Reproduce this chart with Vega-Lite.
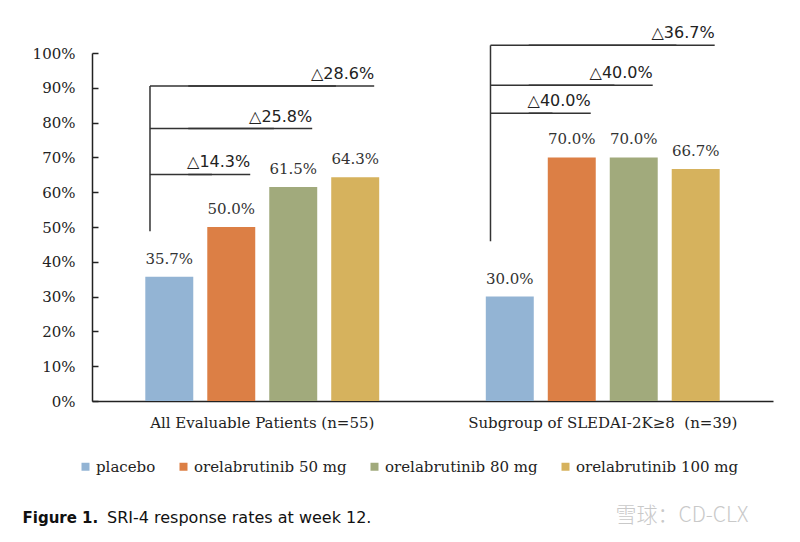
{
  "$schema": "https://vega.github.io/schema/vega-lite/v6.json",
  "autosize": "none",
  "width": 681,
  "height": 348,
  "padding": {"left": 92, "top": 53, "right": 27, "bottom": 141},
  "background": "white",
  "title": {
    "text": "SRI-4 response rates at week 12.",
    "orient": "bottom",
    "anchor": "start",
    "frame": "group",
    "dx": 15,
    "dy": -11,
    "font": "DejaVu Sans",
    "fontSize": 16,
    "fontWeight": "normal",
    "color": "#111",
    "baseline": "middle"
  },
  "datasets": {
    "rates": [
      {"group": "All Evaluable Patients (n=55)", "treatment": "placebo", "rate": 0.357},
      {"group": "All Evaluable Patients (n=55)", "treatment": "orelabrutinib 50 mg", "rate": 0.5},
      {"group": "All Evaluable Patients (n=55)", "treatment": "orelabrutinib 80 mg", "rate": 0.615},
      {"group": "All Evaluable Patients (n=55)", "treatment": "orelabrutinib 100 mg", "rate": 0.643},
      {"group": "Subgroup of SLEDAI-2K≥8\u00a0 (n=39)", "treatment": "placebo", "rate": 0.3},
      {"group": "Subgroup of SLEDAI-2K≥8\u00a0 (n=39)", "treatment": "orelabrutinib 50 mg", "rate": 0.7},
      {"group": "Subgroup of SLEDAI-2K≥8\u00a0 (n=39)", "treatment": "orelabrutinib 80 mg", "rate": 0.7},
      {"group": "Subgroup of SLEDAI-2K≥8\u00a0 (n=39)", "treatment": "orelabrutinib 100 mg", "rate": 0.667}
    ],
    "brackets": [
      {"group": "All Evaluable Patients (n=55)", "id": "g1a", "start": "placebo", "end": "orelabrutinib 50 mg", "level": 0.651, "label": "△14.3%"},
      {"group": "All Evaluable Patients (n=55)", "id": "g1b", "start": "placebo", "end": "orelabrutinib 80 mg", "level": 0.783, "label": "△25.8%"},
      {"group": "All Evaluable Patients (n=55)", "id": "g1c", "start": "placebo", "end": "orelabrutinib 100 mg", "level": 0.905, "label": "△28.6%"},
      {"group": "Subgroup of SLEDAI-2K≥8\u00a0 (n=39)", "id": "g2a", "start": "placebo", "end": "orelabrutinib 50 mg", "level": 0.827, "label": "△40.0%"},
      {"group": "Subgroup of SLEDAI-2K≥8\u00a0 (n=39)", "id": "g2b", "start": "placebo", "end": "orelabrutinib 80 mg", "level": 0.907, "label": "△40.0%"},
      {"group": "Subgroup of SLEDAI-2K≥8\u00a0 (n=39)", "id": "g2c", "start": "placebo", "end": "orelabrutinib 100 mg", "level": 1.022, "label": "△36.7%"}
    ],
    "stems": [
      {"group": "All Evaluable Patients (n=55)", "treatment": "placebo", "base": 0.488, "top": 0.905},
      {"group": "Subgroup of SLEDAI-2K≥8\u00a0 (n=39)", "treatment": "placebo", "base": 0.459, "top": 1.022}
    ]
  },
  "encoding": {
    "x": {
      "field": "group",
      "type": "nominal",
      "sort": null,
      "scale": {"paddingInner": 0, "paddingOuter": 0},
      "axis": {
        "title": "Figure 1.",
        "titleX": -70,
        "titleY": 116,
        "titleAlign": "left",
        "titleAngle": 0,
        "titleBaseline": "middle",
        "titleFont": "DejaVu Sans",
        "titleFontSize": 15,
        "titleFontWeight": "bold",
        "titleColor": "#111",
        "labelAngle": 0,
        "labelFont": "DejaVu Serif",
        "labelFontSize": 15,
        "labelColor": "#222",
        "labelPadding": 14,
        "labelLimit": 400,
        "ticks": false,
        "domainColor": "#222",
        "domainWidth": 1.5
      }
    },
    "y": {
      "type": "quantitative",
      "scale": {"domain": [0, 1], "nice": false, "zero": true},
      "axis": {
        "values": [0, 0.1, 0.2, 0.3, 0.4, 0.5, 0.6, 0.7, 0.8, 0.9, 1],
        "format": ".0%",
        "grid": false,
        "labelFont": "DejaVu Serif",
        "labelFontSize": 15,
        "labelColor": "#222",
        "labelPadding": 23,
        "tickSize": -6,
        "tickColor": "#222",
        "tickWidth": 1.5,
        "domainColor": "#222",
        "domainWidth": 1.5,
        "title": "雪球：CD-CLX",
        "titleAngle": 0,
        "titleX": 523,
        "titleY": 462,
        "titleAlign": "left",
        "titleBaseline": "middle",
        "titleFont": "Noto Sans CJK SC",
        "titleFontSize": 21,
        "titleFontWeight": 300,
        "titleColor": "#c9c9c9"
      }
    }
  },
  "resolve": {"scale": {"xOffset": "independent"}},
  "layer": [
    {
      "data": {"name": "rates"},
      "encoding": {
        "xOffset": {
          "field": "treatment",
          "type": "nominal",
          "scale": {
            "type": "band",
            "domain": ["placebo", "orelabrutinib 50 mg", "orelabrutinib 80 mg", "orelabrutinib 100 mg"],
            "paddingInner": 0.226,
            "paddingOuter": 0.86
          }
        },
        "y": {"field": "rate", "type": "quantitative"}
      },
      "layer": [
        {
          "mark": {"type": "bar"},
          "encoding": {
            "color": {
              "field": "treatment",
              "type": "nominal",
              "scale": {
                "domain": ["placebo", "orelabrutinib 50 mg", "orelabrutinib 80 mg", "orelabrutinib 100 mg"],
                "range": ["#93b4d4", "#dc7f45", "#a1aa7c", "#d6b25d"]
              },
              "legend": {
                "orient": "none",
                "legendX": -14,
                "legendY": 406,
                "direction": "horizontal",
                "title": null,
                "symbolType": "square",
                "symbolSize": 64,
                "symbolStrokeWidth": 0,
                "labelFont": "DejaVu Serif",
                "labelFontSize": 15,
                "labelColor": "#222",
                "labelLimit": 300,
                "labelOffset": 3,
                "columnPadding": 20
              }
            }
          }
        },
        {
          "mark": {"type": "text", "baseline": "alphabetic", "dy": -13, "font": "DejaVu Serif", "fontSize": 15, "color": "#333"},
          "encoding": {
            "text": {"field": "rate", "type": "quantitative", "format": ".1%"}
          }
        }
      ]
    },
    {
      "data": {"name": "stems"},
      "mark": {"type": "rule", "color": "#333", "strokeWidth": 1.5},
      "encoding": {
        "xOffset": {
          "field": "treatment",
          "type": "nominal",
          "scale": {
            "type": "band",
            "domain": ["placebo", "orelabrutinib 50 mg", "orelabrutinib 80 mg", "orelabrutinib 100 mg"],
            "paddingInner": 0.226,
            "paddingOuter": 0.86,
            "align": 0.319
          }
        },
        "y": {"field": "base", "type": "quantitative"},
        "y2": {"field": "top"}
      }
    },
    {
      "data": {"name": "brackets"},
      "transform": [{"fold": ["start", "end"], "as": ["side", "treatment"]}],
      "mark": {"type": "line", "color": "#333", "strokeWidth": 1.5},
      "encoding": {
        "xOffset": {
          "field": "treatment",
          "type": "nominal",
          "scale": {
            "type": "band",
            "domain": ["placebo", "orelabrutinib 50 mg", "orelabrutinib 80 mg", "orelabrutinib 100 mg"],
            "paddingInner": 0.226,
            "paddingOuter": 0.86,
            "align": 0.319
          }
        },
        "y": {"field": "level", "type": "quantitative"},
        "detail": {"field": "id"}
      }
    },
    {
      "data": {"name": "brackets"},
      "transform": [{"fold": ["start", "end"], "as": ["side", "treatment"]}],
      "mark": {"type": "line", "color": "#333", "strokeWidth": 1.5},
      "encoding": {
        "xOffset": {
          "field": "treatment",
          "type": "nominal",
          "scale": {
            "type": "band",
            "domain": ["placebo", "orelabrutinib 50 mg", "orelabrutinib 80 mg", "orelabrutinib 100 mg"],
            "paddingInner": 0.226,
            "paddingOuter": 0.86,
            "align": 0.678
          }
        },
        "y": {"field": "level", "type": "quantitative"},
        "detail": {"field": "id"}
      }
    },
    {
      "data": {"name": "brackets"},
      "mark": {"type": "text", "align": "right", "baseline": "alphabetic", "dy": -7, "font": "DejaVu Sans", "fontSize": 16, "color": "#222"},
      "encoding": {
        "xOffset": {
          "field": "end",
          "type": "nominal",
          "scale": {
            "type": "band",
            "domain": ["placebo", "orelabrutinib 50 mg", "orelabrutinib 80 mg", "orelabrutinib 100 mg"],
            "paddingInner": 0.226,
            "paddingOuter": 0.86,
            "align": 0.678
          }
        },
        "y": {"field": "level", "type": "quantitative"},
        "text": {"field": "label"}
      }
    }
  ],
  "config": {"view": {"stroke": null}}
}
